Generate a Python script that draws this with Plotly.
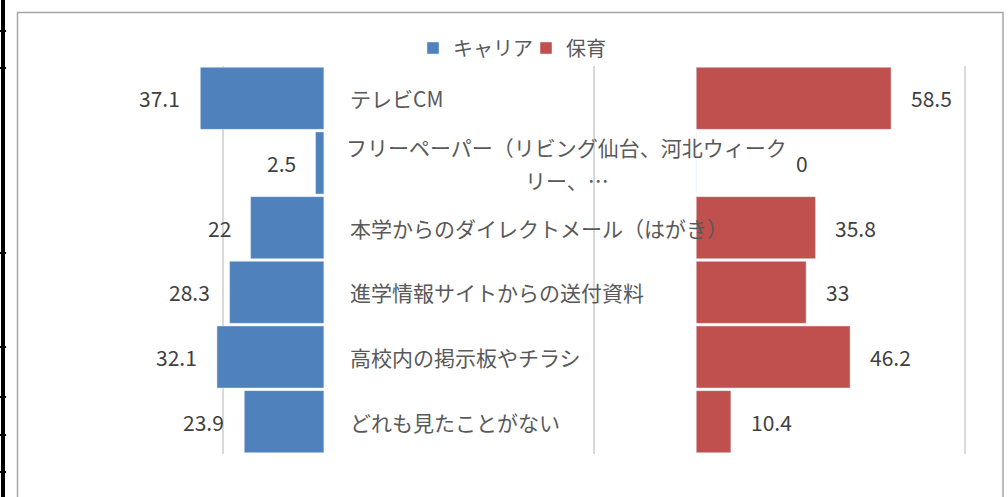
import plotly.graph_objects as go

categories = [
    "テレビCM",
    "フリーペーパー（リビング仙台、河北ウィークリー、…",
    "本学からのダイレクトメール（はがき）",
    "進学情報サイトからの送付資料",
    "高校内の掲示板やチラシ",
    "どれも見たことがない",
]
label_lines = [
    ["テレビCM"],
    ["フリーペーパー（リビング仙台、河北ウィーク", "リー、…"],
    ["本学からのダイレクトメール（はがき）"],
    ["進学情報サイトからの送付資料"],
    ["高校内の掲示板やチラシ"],
    ["どれも見たことがない"],
]
career = [37.1, 2.5, 22, 28.3, 32.1, 23.9]
hoiku = [58.5, 0, 35.8, 33, 46.2, 10.4]
series_names = ["キャリア", "保育"]

W, H = 1008, 497
ML, MR, MT, MB = 174, 18, 66, 43
XR = [-45, 200]
OFFSET = 111.8
GRID = [-30.2, 81.1, 192.5]
FONT = "Noto Sans CJK JP, Noto Sans, sans-serif"
BLUE = "#4F81BD"
RED = "#C0504D"

pw = W - ML - MR
ph = H - MT - MB


def px_x(p):
    return (p - ML) / pw


def px_y(p):
    return (H - MB - p) / ph


fig = go.Figure()
fig.add_trace(go.Bar(
    y=categories, x=[-v for v in career], base=0, orientation="h",
    name=series_names[0], marker=dict(color=BLUE), hoverinfo="skip",
))
fig.add_trace(go.Bar(
    y=categories, x=hoiku, base=OFFSET, orientation="h",
    name=series_names[1], marker=dict(color=RED), hoverinfo="skip",
))

ann = []
for cat, lines in zip(categories, label_lines):
    if len(lines) == 1:
        ann.append(dict(x=0, y=cat, xref="x", yref="y", text=lines[0],
                        xanchor="left", yanchor="middle", xshift=24,
                        showarrow=False, font=dict(size=21, color="#595959", family=FONT)))
    else:
        for i, ln in enumerate(lines):
            ann.append(dict(x=0, y=cat, xref="x", yref="y", text=ln,
                            xanchor="center", yanchor="middle", xshift=243,
                            yshift=16.5 if i == 0 else -16.5,
                            showarrow=False, font=dict(size=21, color="#595959", family=FONT)))

for cat, v in zip(categories, career):
    ann.append(dict(x=-v, y=cat, xref="x", yref="y", text=f"{v:g}",
                    xanchor="right", yanchor="middle", xshift=-18,
                    showarrow=False, font=dict(size=21, color="#404040", family=FONT)))
for cat, v in zip(categories, hoiku):
    ann.append(dict(x=OFFSET + v, y=cat, xref="x", yref="y", text=f"{v:g}",
                    xanchor="left", yanchor="middle", xshift=18 if v > 0 else 98,
                    showarrow=False, font=dict(size=21, color="#404040", family=FONT)))

shapes = [
    # chart border
    dict(type="rect", xref="paper", yref="paper",
         x0=px_x(17.5), x1=px_x(1003), y0=px_y(12.5), y1=px_y(510),
         line=dict(color="#A6A6A6", width=1.5), fillcolor="rgba(0,0,0,0)", layer="below"),
    # left black edge (spreadsheet frame)
    dict(type="line", xref="paper", yref="paper",
         x0=px_x(3), x1=px_x(3), y0=px_y(0), y1=px_y(497),
         line=dict(color="#000000", width=4)),
]
for ty in [31, 68, 253, 347, 397, 435, 472]:
    shapes.append(dict(type="line", xref="paper", yref="paper",
                       x0=px_x(0), x1=px_x(6), y0=px_y(ty), y1=px_y(ty),
                       line=dict(color="#000000", width=2)))

fig.update_layout(
    width=W, height=H,
    margin=dict(l=ML, r=MR, t=MT, b=MB),
    paper_bgcolor="white", plot_bgcolor="white",
    barmode="overlay", bargap=0.04,
    font=dict(family=FONT, color="#595959"),
    xaxis=dict(range=XR, tickvals=GRID, showticklabels=False, showgrid=True,
               gridcolor="#D9D9D9", gridwidth=1.5, zeroline=False, showline=False, fixedrange=True),
    yaxis=dict(type="category", autorange="reversed", showticklabels=False,
               showgrid=False, zeroline=False, showline=False, fixedrange=True),
    legend=dict(orientation="h", x=px_x(413), y=px_y(48), xanchor="left", yanchor="middle",
                xref="paper", yref="paper", entrywidth=68, entrywidthmode="pixels",
                font=dict(size=20, color="#595959", family=FONT),
                bgcolor="rgba(0,0,0,0)", itemclick=False, itemdoubleclick=False),
    annotations=ann, shapes=shapes, showlegend=True,
)

fig.write_html("out.html", config={"displayModeBar": False},
               post_script="document.body.style.margin='0';document.body.style.overflow='hidden';")
